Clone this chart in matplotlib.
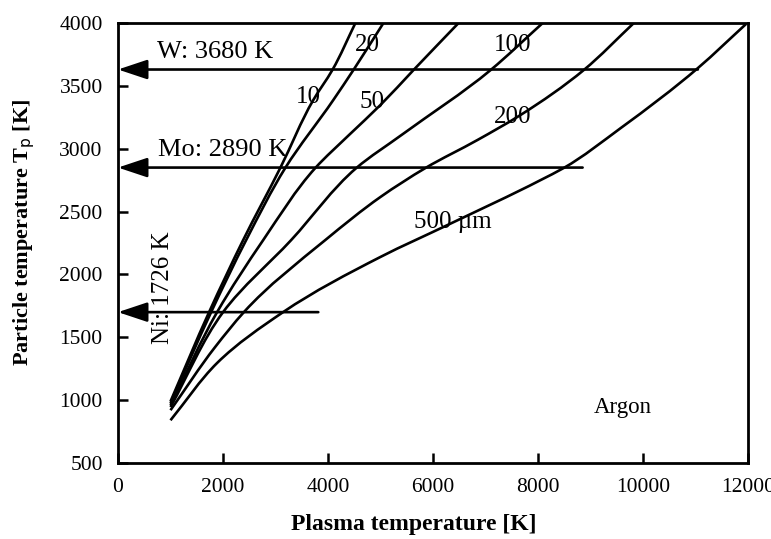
import matplotlib
matplotlib.use("Agg")
import matplotlib.pyplot as plt
from matplotlib.path import Path
from matplotlib.patches import PathPatch

plt.rcParams['font.family'] = ['Liberation Serif', 'DejaVu Serif']

# ---- data ----
x10 = [1000, 1736, 2385, 3091, 3721, 4083, 4522]
y10 = [990, 1701, 2274, 2847, 3388, 3626, 4000]
x20 = [1000, 1775, 2442, 3186, 4102, 4484, 5056]
y20 = [975, 1701, 2274, 2847, 3388, 3626, 4000]
x50 = [1000, 1889, 2767, 3759, 4400, 4999, 5629, 6487]
y50 = [960, 1701, 2274, 2847, 3109, 3348, 3626, 4000]
x100 = [1000, 2003, 3300, 4541, 5400, 7098, 8090]
y100 = [945, 1701, 2274, 2847, 3109, 3626, 4000]
x200 = [1000, 1851, 2400, 3950, 4999, 5858, 6850, 7670, 8872, 9826]
y200 = [920, 1423, 1701, 2274, 2616, 2847, 3070, 3269, 3626, 4000]
x500 = [1000, 1889, 3148, 4999, 6277, 8052, 8491, 9578, 11047, 11963]
y500 = [840, 1296, 1701, 2139, 2393, 2751, 2847, 3165, 3642, 3992]

curve_labels = ["10", "20", "50", "100", "200", "500 \u00b5m"]
label_x = [3625, 4751, 4846, 7518, 7518, 6373]
label_y = [3411, 3825, 3372, 3825, 3252, 2417]

melt_names = ["W: 3680 K", "Mo: 2890 K", "Ni: 1726 K"]
melt_y = [3630, 2850, 1700]
melt_xend = [11045, 8850, 3815]

xticks = [0, 2000, 4000, 6000, 8000, 10000, 12000]
yticks = [500, 1000, 1500, 2000, 2500, 3000, 3500, 4000]

XSPAN, YSPAN = 12000.0, 3500.0
XPIX, YPIX = 630.0, 440.0


def smooth_path(xs, ys):
    """Smooth curve through the read points (chord-length Hermite -> cubic Beziers)."""
    pts = [(x / XSPAN * XPIX, y / YSPAN * YPIX) for x, y in zip(xs, ys)]
    n = len(pts)
    dt = [max(((pts[i + 1][0] - pts[i][0]) ** 2 + (pts[i + 1][1] - pts[i][1]) ** 2) ** 0.5, 1e-6)
          for i in range(n - 1)]
    tang = []
    for i in range(n):
        if i == 0:
            m = ((pts[1][0] - pts[0][0]) / dt[0], (pts[1][1] - pts[0][1]) / dt[0])
        elif i == n - 1:
            m = ((pts[-1][0] - pts[-2][0]) / dt[-1], (pts[-1][1] - pts[-2][1]) / dt[-1])
        else:
            a, b = dt[i - 1], dt[i]
            m = tuple(((pts[i + 1][k] - pts[i][k]) / b * a + (pts[i][k] - pts[i - 1][k]) / a * b) / (a + b)
                      for k in range(2))
        tang.append(m)
    verts = [pts[0]]
    codes = [Path.MOVETO]
    for i in range(n - 1):
        h = dt[i] / 3.0
        c1 = (pts[i][0] + tang[i][0] * h, pts[i][1] + tang[i][1] * h)
        c2 = (pts[i + 1][0] - tang[i + 1][0] * h, pts[i + 1][1] - tang[i + 1][1] * h)
        verts += [c1, c2, pts[i + 1]]
        codes += [Path.CURVE4] * 3
    verts = [(vx / XPIX * XSPAN, vy / YPIX * YSPAN) for vx, vy in verts]
    return Path(verts, codes)


fig = plt.figure(figsize=(7.71, 5.39), dpi=100)
ax = fig.add_axes([118/771, 1-463/539, (748-118)/771, (463-23)/539])

for xs, ys in [(x10, y10), (x20, y20), (x50, y50), (x100, y100), (x200, y200), (x500, y500)]:
    ax.add_patch(PathPatch(smooth_path(xs, ys), fill=False, edgecolor='black',
                           lw=1.9, joinstyle='round', capstyle='butt'))

for lab, lx, ly in zip(curve_labels, label_x, label_y):
    ax.text(lx, ly, lab, fontsize=18, ha='center', va='center', color='black')

for yv, xe in zip(melt_y, melt_xend):
    ax.annotate('', xy=(0, yv), xytext=(xe, yv),
                arrowprops=dict(arrowstyle='-|>,head_length=0.9,head_width=0.3',
                                lw=1.9, color='black', shrinkA=0, shrinkB=0,
                                mutation_scale=20))

ax.text(744, 3770, melt_names[0], fontsize=19, ha='left', va='center')
ax.text(763, 2990, melt_names[1], fontsize=19, ha='left', va='center')
ax.text(859, 1892, melt_names[2], fontsize=18, ha='center', va='center', rotation=90)
ax.text(9617, 945, "Argon", fontsize=16.5, ha='center', va='center')

ax.set_xlim(0, 12000)
ax.set_ylim(500, 4000)
ax.set_xticks(xticks)
ax.set_yticks(yticks)
ax.tick_params(direction='in', length=7, width=1.8, labelsize=15.5, pad=11,
               top=False, right=False)
for s in ax.spines.values():
    s.set_linewidth(2)

ax.set_xlabel("Plasma temperature [K]", fontsize=17, fontweight='bold')
ax.set_ylabel("Particle temperature T$_\\mathrm{p}$ [K]", fontsize=16, fontweight='bold')
ax.xaxis.set_label_coords(0.47, -0.115)
ax.yaxis.set_label_coords(-0.128, 0.525)

fig.savefig("out.png", dpi=100)
